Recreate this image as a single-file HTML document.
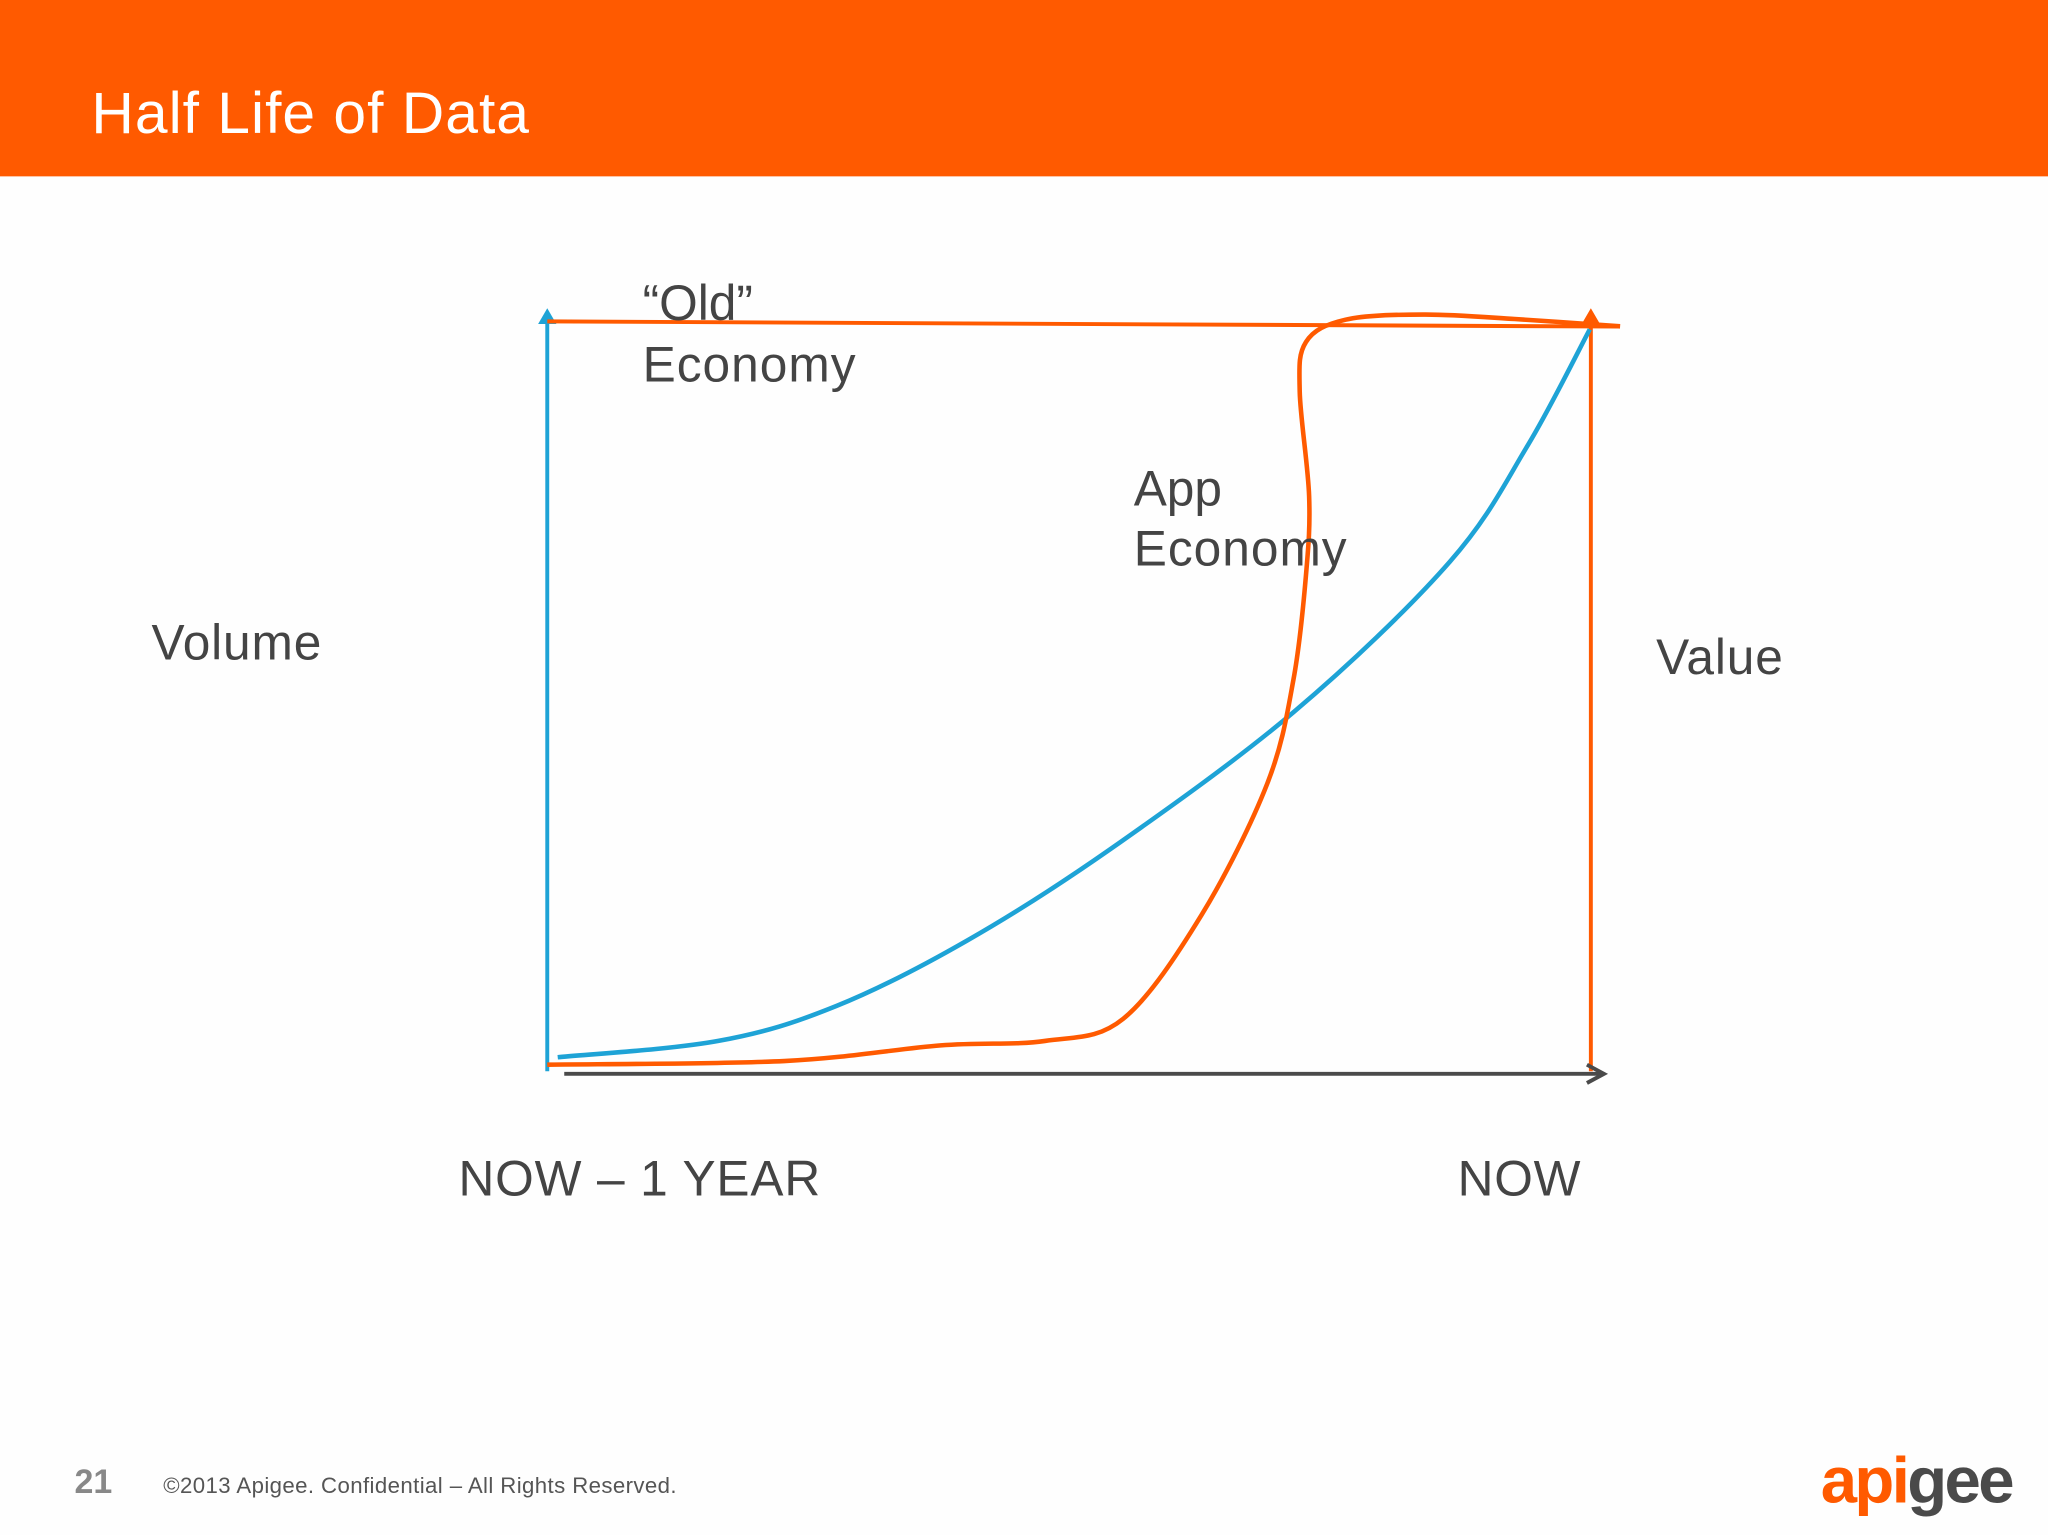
<!DOCTYPE html>
<html><head><meta charset="utf-8"><style>
html,body{margin:0;padding:0;background:#fff;}
svg{display:block;font-family:"Liberation Sans",Arial,sans-serif;}
</style></head><body>
<svg width="2048" height="1535" viewBox="0 0 1568 1175" preserveAspectRatio="none">
<rect x="0" y="0" width="1568" height="1175" fill="#fefefe"/>
<rect x="0" y="0" width="1568" height="135" fill="#ff5a00"/>
<text x="70" y="102" font-size="45" fill="#fff" textLength="335">Half Life of Data</text>

<g id="chart">
  <line x1="419" y1="245" x2="419" y2="820" stroke="#1ea3d6" stroke-width="3"/>
  <polygon points="412,248 419,236 426,248" fill="#1ea3d6"/>
  <line x1="419" y1="246" x2="1240" y2="250" stroke="#ff5a00" stroke-width="3"/>
  <line x1="1218" y1="245" x2="1218" y2="820" stroke="#ff5a00" stroke-width="3"/>
  <polygon points="1211,248 1218,236 1225,248" fill="#ff5a00"/>
  <line x1="432" y1="822" x2="1226" y2="822" stroke="#4a4a4a" stroke-width="3"/>
  <polyline points="1215,815 1228,822 1215,829" fill="none" stroke="#4a4a4a" stroke-width="3"/>
</g>

<text x="492" y="245" font-size="38" fill="#444">“Old”</text>
<text x="492" y="292" font-size="38" fill="#444" textLength="163">Economy</text>
<text x="868" y="387" font-size="38" fill="#444">App</text>
<text x="868" y="433" font-size="38" fill="#444" textLength="163">Economy</text>
<text x="116" y="505" font-size="38" fill="#444" textLength="130">Volume</text>
<text x="1268" y="516" font-size="38" fill="#444" textLength="97">Value</text>
<text x="351" y="915" font-size="38" fill="#444" textLength="277">NOW – 1 YEAR</text>
<text x="1116" y="915" font-size="38" fill="#444" textLength="94">NOW</text>

<text x="57" y="1143" font-size="26" font-weight="bold" fill="#888">21</text>
<text x="125" y="1143" font-size="17" fill="#555" textLength="393">©2013 Apigee. Confidential – All Rights Reserved.</text>
<text x="1394" y="1150" font-size="50" font-weight="bold" letter-spacing="-2"><tspan fill="#ff5a00">api</tspan><tspan fill="#4a4a4a">gee</tspan></text>
</svg>
<script>
const volumeX = [0.01,0.164,0.277,0.402,0.539,0.715,0.865,0.94,0.999];
const volumeY = [0.01,0.032,0.079,0.167,0.29,0.475,0.678,0.836,0.991];
const appX = [0,0.227,0.377,0.477,0.552,0.627,0.69,0.715,0.727,0.73,0.721,0.727,0.765,0.84,0.927,1.028];
const appY = [0,0.005,0.026,0.032,0.062,0.202,0.379,0.519,0.66,0.766,0.907,0.974,1.004,1.011,1.005,0.995];
function xScale(v){return 419 + v*(1218-419);}
function yScale(v){return 815 - v*(815-247);}
function smoothPath(xs, ys){
  const p = xs.map((x,i)=>[xScale(x), yScale(ys[i])]);
  let d = 'M'+p[0][0].toFixed(1)+','+p[0][1].toFixed(1);
  for(let i=0;i<p.length-1;i++){
    const p0=p[Math.max(0,i-1)], p1=p[i], p2=p[i+1], p3=p[Math.min(p.length-1,i+2)];
    const c1=[p1[0]+(p2[0]-p0[0])/6, p1[1]+(p2[1]-p0[1])/6];
    const c2=[p2[0]-(p3[0]-p1[0])/6, p2[1]-(p3[1]-p1[1])/6];
    d+=' C'+c1[0].toFixed(1)+','+c1[1].toFixed(1)+' '+c2[0].toFixed(1)+','+c2[1].toFixed(1)+' '+p2[0].toFixed(1)+','+p2[1].toFixed(1);
  }
  return d;
}
const chart = document.getElementById('chart');
const ns = 'http://www.w3.org/2000/svg';
const blue = document.createElementNS(ns,'path');
blue.setAttribute('d', smoothPath(volumeX, volumeY));
blue.setAttribute('fill','none');
blue.setAttribute('stroke','#1ea3d6');
blue.setAttribute('stroke-width','3.5');


chart.appendChild(blue);
const orange = document.createElementNS(ns,'path');
orange.setAttribute('d', smoothPath(appX, appY));
orange.setAttribute('fill','none');
orange.setAttribute('stroke','#ff5a00');
orange.setAttribute('stroke-width','3.5');


chart.appendChild(orange);
</script>
</body></html>
